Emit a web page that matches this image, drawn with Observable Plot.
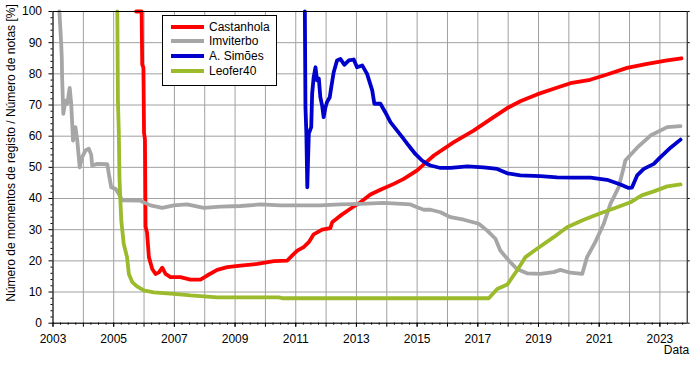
<!DOCTYPE html>
<html><head><meta charset="utf-8">
<script src="https://cdn.jsdelivr.net/npm/d3@7"></script>
<script src="https://cdn.jsdelivr.net/npm/@observablehq/plot@0.6"></script>
<style>
body{margin:0;background:#fff;font-family:"Liberation Sans",Arial,sans-serif;}
#wrap{position:relative;width:700px;height:368px;overflow:hidden;}
#legend{position:absolute;left:162px;top:15px;width:113px;height:69px;border:1px solid #000;background:#fff;}
.row{position:absolute;left:8px;height:15px;display:flex;align-items:center;font-size:12px;color:#000;white-space:nowrap;}
.sw{width:33px;height:4px;margin-right:5px;}
</style></head><body><div id="wrap"></div>
<script>
// Series names and colours
const seriesNames = ["Castanhola", "Imviterbo", "A. Simões", "Leofer40"];
const seriesColors = ["#ff0000", "#a6a6a6", "#0000cc", "#9bbb2c"];

// [year, percent]
const castanhola = [[2005.74,100],[2005.92,100],[2005.94,83],[2005.98,82],[2006.00,61],[2006.03,59],[2006.05,31],[2006.10,29],[2006.16,21.2],[2006.27,17.4],[2006.38,15.8],[2006.49,16.3],[2006.60,17.8],[2006.71,15.8],[2006.87,14.8],[2007.20,14.8],[2007.53,14.0],[2007.86,14.0],[2008.08,15.3],[2008.41,17.1],[2008.74,18.0],[2009.18,18.5],[2009.73,19.0],[2010.28,19.9],[2010.72,20.1],[2010.88,21.7],[2011.05,23.3],[2011.26,24.4],[2011.43,26.0],[2011.59,28.5],[2011.87,30.0],[2012.14,30.5],[2012.20,32.4],[2012.47,34.5],[2012.80,36.7],[2013.13,38.8],[2013.46,41.3],[2013.79,42.8],[2014.23,44.7],[2014.56,46.3],[2015.0,49],[2015.11,50.0],[2015.55,53.8],[2016.21,58.1],[2016.86,61.8],[2017.52,66.1],[2018.02,69.3],[2018.40,71.2],[2018.95,73.4],[2019.50,75.2],[2020.05,77.0],[2020.70,78.1],[2021.26,79.8],[2021.92,81.9],[2022.58,83.2],[2023.24,84.3],[2023.71,85.0]];

const imviterbo = [[2003.21,100],[2003.24,95],[2003.27,89.6],[2003.29,85],[2003.30,79],[2003.34,67.2],[2003.41,71.4],[2003.47,70.4],[2003.55,75.5],[2003.60,70.4],[2003.66,58.6],[2003.74,62.9],[2003.80,58.6],[2003.88,50],[2003.96,53.3],[2004.07,55.4],[2004.18,56],[2004.26,54],[2004.29,50.6],[2004.46,51.1],[2004.79,51],[2004.84,47.9],[2004.92,43.6],[2005.06,43.1],[2005.17,41.5],[2005.28,39.4],[2005.88,39.3],[2006.21,37.8],[2006.60,37.0],[2006.98,37.8],[2007.42,38.1],[2007.97,37.0],[2008.52,37.4],[2009.18,37.6],[2009.84,38.1],[2010.50,37.8],[2011.15,37.8],[2011.81,37.8],[2012.47,38.1],[2013.13,38.3],[2013.90,38.6],[2014.78,38.1],[2015.0,37.2],[2015.22,36.4],[2015.44,36.4],[2015.77,35.6],[2016.10,34.0],[2016.54,33.2],[2017.03,31.9],[2017.31,29.7],[2017.58,27.1],[2017.74,23.3],[2018.02,20.1],[2018.29,17.4],[2018.62,16.0],[2019.06,15.8],[2019.50,16.4],[2019.72,17.1],[2020.05,16.2],[2020.44,15.8],[2020.60,21.2],[2020.87,26],[2021.15,31.9],[2021.37,38.3],[2021.64,43.6],[2021.81,50],[2021.86,52.2],[2022.25,56.3],[2022.69,60.2],[2023.24,62.9],[2023.68,63.2]];

const simoes = [[2011.30,100],[2011.32,69.3],[2011.35,60.8],[2011.38,43.6],[2011.43,60.8],[2011.51,62.9],[2011.54,73.6],[2011.59,78.9],[2011.65,82.1],[2011.70,77.9],[2011.76,78.5],[2011.81,72.5],[2011.87,69.8],[2011.92,66.1],[2011.98,69.3],[2012.03,70.9],[2012.12,72.5],[2012.17,75.7],[2012.25,80.5],[2012.36,84.3],[2012.47,84.8],[2012.60,82.9],[2012.75,84.3],[2012.91,84.6],[2013.02,82.1],[2013.19,82.7],[2013.35,80],[2013.52,74.7],[2013.59,70.4],[2013.79,70.4],[2013.95,67.7],[2014.12,64.5],[2014.34,61.8],[2014.51,59.7],[2014.72,57],[2014.94,54.3],[2015.16,52.2],[2015.33,51.1],[2015.44,50.6],[2015.77,49.8],[2016.10,49.8],[2016.65,50.3],[2017.19,50],[2017.64,49.5],[2017.97,48.1],[2018.40,47.4],[2019.06,47.2],[2019.61,46.8],[2020.16,46.7],[2020.71,46.7],[2021.26,46.0],[2021.70,44.5],[2021.97,43.4],[2022.08,43.5],[2022.25,47.4],[2022.47,49.5],[2022.80,51.1],[2023.02,53.3],[2023.35,56.3],[2023.68,58.9]];

const leofer40 = [[2005.12,100],[2005.14,71.4],[2005.17,60.8],[2005.19,46.8],[2005.22,39.4],[2005.25,33],[2005.33,25.5],[2005.44,21.2],[2005.50,15.8],[2005.61,13.2],[2005.77,11.8],[2005.99,10.5],[2006.32,9.9],[2006.98,9.4],[2007.53,8.9],[2007.97,8.6],[2008.41,8.3],[2009.51,8.3],[2010.45,8.3],[2010.55,8.0],[2014.45,8.0],[2015.77,8.0],[2017.36,8.0],[2017.64,11],[2017.97,12.4],[2018.29,16.9],[2018.57,21.2],[2018.95,23.9],[2019.50,27.6],[2019.94,30.8],[2020.49,33.2],[2021.04,35.3],[2021.59,37.2],[2022.03,38.8],[2022.40,41.0],[2022.80,42.3],[2023.24,43.9],[2023.68,44.5]];

// Tick values
const xDomain = [2003, 2023.9];
const yearTicks = d3.range(2003, 2024);
const labelYears = d3.range(2003, 2024, 2);
const quarterTicks = d3.range(2003, 2023.9, 0.25).filter(d => d % 1 !== 0);
const yMajor = d3.range(0, 101, 10);
const yMinor = d3.range(0, 101, 2).filter(d => d % 10 !== 0);
const yLabel = "Número de momentos de registo / Número de notas [%]";
const xLabel = "Data";

const series = [castanhola, imviterbo, simoes, leofer40];

const chart = Plot.plot({
  width: 700,
  height: 368,
  marginLeft: 52.5,
  marginRight: 13.3,
  marginTop: 11,
  marginBottom: 45.3,
  style: {fontFamily: "'Liberation Sans', Arial, sans-serif", fontSize: "12px", color: "#000", background: "#fff"},
  x: {domain: xDomain},
  y: {domain: [0, 100]},
  marks: [
    Plot.gridX(yearTicks, {stroke: "#a0a0a0", strokeOpacity: 1}),
    Plot.gridY(yMajor, {stroke: "#a0a0a0", strokeOpacity: 1}),
    ...series.map((s, i) => Plot.line(s, {x: d => d[0], y: d => d[1], stroke: seriesColors[i], strokeWidth: 3.8})),
    Plot.frame({stroke: "#000"}),
    Plot.axisX(labelYears, {tickSize: 4, tickPadding: 7, tickFormat: d => String(d), label: null}),
    Plot.axisX(yearTicks, {tickSize: 4, tickFormat: () => "", label: null}),
    Plot.axisX(quarterTicks, {tickSize: 2, tickFormat: () => "", label: null}),
    Plot.axisY(yMajor, {tickSize: 4, tickPadding: 7, label: null}),
    Plot.axisY(yMinor, {tickSize: 2, tickFormat: () => "", label: null}),
    Plot.axisY(yMajor, {anchor: "right", tickSize: 2, tickFormat: () => "", label: null}),
    Plot.text([xLabel], {frameAnchor: "bottom-right", textAnchor: "end", dx: 2, dy: 31, fontSize: 12, fill: "#000"})
  ]
});

// Rotated y-axis title, placed left of the frame
d3.select(chart).append("text")
  .attr("transform", "translate(11,153) rotate(-90)")
  .attr("text-anchor", "middle")
  .attr("dy", "0.35em")
  .attr("font-size", 12)
  .attr("fill", "#000")
  .text(yLabel);

const wrap = document.getElementById("wrap");
wrap.appendChild(chart);

const legend = document.createElement("div");
legend.id = "legend";
seriesNames.forEach((name, i) => {
  const row = document.createElement("div");
  row.className = "row";
  row.style.top = (3 + i * 14.9) + "px";
  const sw = document.createElement("span");
  sw.className = "sw";
  sw.style.background = seriesColors[i];
  const t = document.createElement("span");
  t.textContent = name;
  row.appendChild(sw);
  row.appendChild(t);
  legend.appendChild(row);
});
wrap.appendChild(legend);
</script>
</body></html>
